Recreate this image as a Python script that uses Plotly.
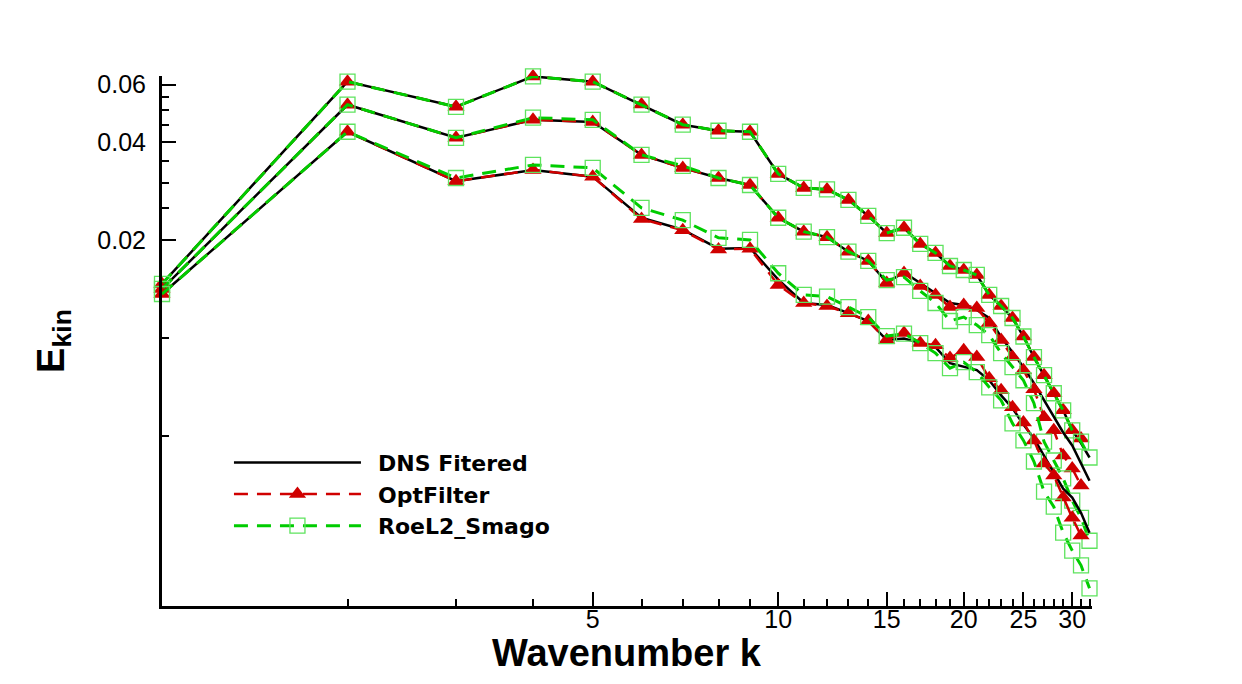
import plotly.graph_objects as go

# ---------------- data ----------------
k = list(range(1, 33))          # DNS / RoeL2 wavenumbers
k_opt = list(range(1, 32))      # OptFilter wavenumbers

dns_top = [0.01465, 0.0613, 0.0513, 0.0636, 0.0613, 0.0521, 0.0452, 0.0433, 0.0430, 0.0319,
           0.0289, 0.0286, 0.02655, 0.0237, 0.0210, 0.0218, 0.01944, 0.01824, 0.01663, 0.01617,
           0.01561, 0.01355, 0.01253, 0.01151, 0.01010, 0.00873, 0.00768, 0.00676, 0.00599, 0.00520,
           0.00475, 0.00429]
opt_top = [0.01465, 0.0613, 0.0513, 0.0636, 0.0613, 0.0521, 0.0452, 0.0433, 0.0430, 0.0319,
           0.0289, 0.0286, 0.02655, 0.0237, 0.0210, 0.0218, 0.01944, 0.01824, 0.01663, 0.01617,
           0.01561, 0.01355, 0.01253, 0.01151, 0.01010, 0.00873, 0.00768, 0.00676, 0.00599, 0.00520,
           0.00491]
roe_top = [0.01465, 0.0613, 0.0513, 0.0636, 0.0613, 0.0521, 0.0452, 0.0433, 0.0430, 0.0319,
           0.0289, 0.0286, 0.02655, 0.0237, 0.0210, 0.0218, 0.01944, 0.01824, 0.01663, 0.01617,
           0.01561, 0.01355, 0.01253, 0.01151, 0.01010, 0.00873, 0.00768, 0.00676, 0.00599, 0.00520,
           0.00480, 0.00429]

dns_mid = [0.01414, 0.05205, 0.0412, 0.0468, 0.0461, 0.0365, 0.0333, 0.0310, 0.0295, 0.0234,
           0.0212, 0.0204, 0.0184, 0.01724, 0.0148, 0.0159, 0.01475, 0.01374, 0.0128, 0.01262,
           0.01218, 0.01151, 0.01006, 0.00904, 0.00813, 0.00726, 0.00643, 0.0057, 0.00512, 0.00467,
           0.00411, 0.00364]
opt_mid = [0.01414, 0.05205, 0.0412, 0.0468, 0.0461, 0.0365, 0.0333, 0.0310, 0.0295, 0.0234,
           0.0212, 0.0204, 0.0184, 0.01724, 0.01475, 0.01583, 0.01444, 0.01355, 0.01244, 0.01262,
           0.01235, 0.01111, 0.00985, 0.00873, 0.00796, 0.00695, 0.0057, 0.0052, 0.00435, 0.00397,
           0.00352]
roe_mid = [0.01414, 0.0521, 0.0412, 0.0475, 0.0468, 0.0365, 0.0338, 0.0310, 0.0295, 0.0234,
           0.0212, 0.0204, 0.0184, 0.01724, 0.01506, 0.01538, 0.01394, 0.0128, 0.01127, 0.01159,
           0.01095, 0.0102, 0.00898, 0.00813, 0.00741, 0.0063, 0.0048, 0.0042, 0.0037, 0.00316,
           0.0028, 0.00238]

dns_bot = [0.01364, 0.0430, 0.0303, 0.0328, 0.0313, 0.0234, 0.0215, 0.0188, 0.0189, 0.0151,
           0.0128, 0.01262, 0.01192, 0.01127, 0.00985, 0.00995, 0.00964, 0.00937, 0.00836, 0.00813,
           0.00796, 0.00741, 0.00666, 0.00608, 0.00542, 0.00491, 0.00435, 0.00386, 0.00344, 0.00323,
           0.0029, 0.00252]
opt_bot = [0.01364, 0.0430, 0.0303, 0.0328, 0.0313, 0.0232, 0.0214, 0.0187, 0.0188, 0.01454,
           0.0128, 0.01253, 0.0119, 0.01127, 0.00985, 0.01035, 0.00964, 0.0095, 0.00867, 0.00917,
           0.00873, 0.00752, 0.0069, 0.00612, 0.0055, 0.00484, 0.00411, 0.00378, 0.00323, 0.0028,
           0.00247]
roe_bot = [0.01364, 0.0430, 0.0310, 0.0340, 0.0333, 0.0251, 0.0230, 0.0203, 0.0200, 0.0158,
           0.01355, 0.01339, 0.01244, 0.01159, 0.01013, 0.0103, 0.00964, 0.00898, 0.00807, 0.00842,
           0.00785, 0.00705, 0.00643, 0.00546, 0.00484, 0.00417, 0.00337, 0.00303, 0.00252, 0.00222,
           0.0020, 0.0017]

x_major = [5, 10, 15, 20, 25, 30]
x_major_text = ["5", "10", "15", "20", "25", "30"]
x_minor = [2, 3, 4, 6, 7, 8, 9, 11, 12, 13, 14, 16, 17, 18, 19, 21, 22, 23, 24,
           26, 27, 28, 29, 31, 32]
y_major = [0.02, 0.04, 0.06]
y_major_text = ["0.02", "0.04", "0.06"]
y_minor = [0.005, 0.01, 0.025, 0.03, 0.035, 0.045, 0.05, 0.055]

names = ["\u00a0\u2009DNS Fitered", "\u00a0\u2009OptFilter", "\u00a0\u2009RoeL2_Smago"]

# ---------------- styles ----------------
BLACK = "#000000"
RED = "#d00000"
GREEN = "#00cc00"
GREEN_MK = "#5ee35e"
FONT = "Liberation Sans, Arial, Helvetica, sans-serif"
LEG_FONT = "DejaVu Sans, Liberation Sans, sans-serif"

fig = go.Figure()

groups = [(dns_top, opt_top, roe_top), (dns_mid, opt_mid, roe_mid), (dns_bot, opt_bot, roe_bot)]
for gi, (d, o, r) in enumerate(groups):
    first = gi == 0
    fig.add_trace(go.Scatter(
        x=k, y=d, mode="lines", name=names[0], showlegend=first, legendrank=1,
        cliponaxis=False,
        line=dict(color=BLACK, width=2.5)))
    fig.add_trace(go.Scatter(
        x=k_opt, y=o, mode="lines+markers", name=names[1], showlegend=first, legendrank=2,
        cliponaxis=False,
        line=dict(color=RED, width=2.5, dash="14px,9px"),
        marker=dict(symbol="triangle-up", size=15, color=RED, line=dict(width=0))))
    fig.add_trace(go.Scatter(
        x=k, y=r, mode="lines+markers", name=names[2], showlegend=first, legendrank=3,
        cliponaxis=False,
        line=dict(color=GREEN, width=3, dash="14px,9px"),
        marker=dict(symbol="square-open", size=15, color=GREEN_MK, line=dict(width=1.3, color=GREEN_MK))))

fig.update_layout(
    width=1242, height=684,
    margin=dict(l=162, r=150, t=76, b=78, autoexpand=False),
    paper_bgcolor="white", plot_bgcolor="white",
    font=dict(family=FONT, color="black", size=24),
    showlegend=True,
    legend=dict(
        x=0.072, y=0.310, xanchor="left", yanchor="top",
        bgcolor="rgba(0,0,0,0)", borderwidth=0,
        itemwidth=127,
        font=dict(family=LEG_FONT, size=22, color="black", weight="bold"),
        tracegroupgap=0,
    ),
    annotations=[dict(
        text="<b>Wavenumber k</b>", xref="paper", yref="paper",
        x=0.5, y=-0.088, xanchor="center", yanchor="middle", showarrow=False,
        font=dict(family=FONT, size=38, color="black"),
    )],
)

fig.update_xaxes(
    type="log", range=[0, 1.5092],
    showline=True, linewidth=3, linecolor="black", mirror=False,
    showgrid=False, zeroline=False,
    tickmode="array", tickvals=x_major, ticktext=x_major_text,
    ticks="inside", ticklen=14, tickwidth=2, tickcolor="black",
    ticklabelstandoff=-11,
    tickfont=dict(family=FONT, size=25),
    minor=dict(tickmode="array", tickvals=x_minor, ticks="inside", ticklen=7,
               tickwidth=1.5, tickcolor="black", showgrid=False),
    automargin=False,
)
fig.update_yaxes(
    type="log", range=[-2.8239, -1.1952],
    showline=True, linewidth=3, linecolor="black", mirror=False,
    showgrid=False, zeroline=False,
    tickmode="array", tickvals=y_major, ticktext=y_major_text,
    ticks="inside", ticklen=14, tickwidth=2, tickcolor="black",
    ticklabelstandoff=8,
    tickfont=dict(family=FONT, size=25),
    minor=dict(tickmode="array", tickvals=y_minor, ticks="inside", ticklen=7,
               tickwidth=1.5, tickcolor="black", showgrid=False),
    automargin=False,
    title=dict(text="<b>E<sub>kin</sub></b>", font=dict(family=FONT, size=38), standoff=22),
)

fig.write_html("out.html")
